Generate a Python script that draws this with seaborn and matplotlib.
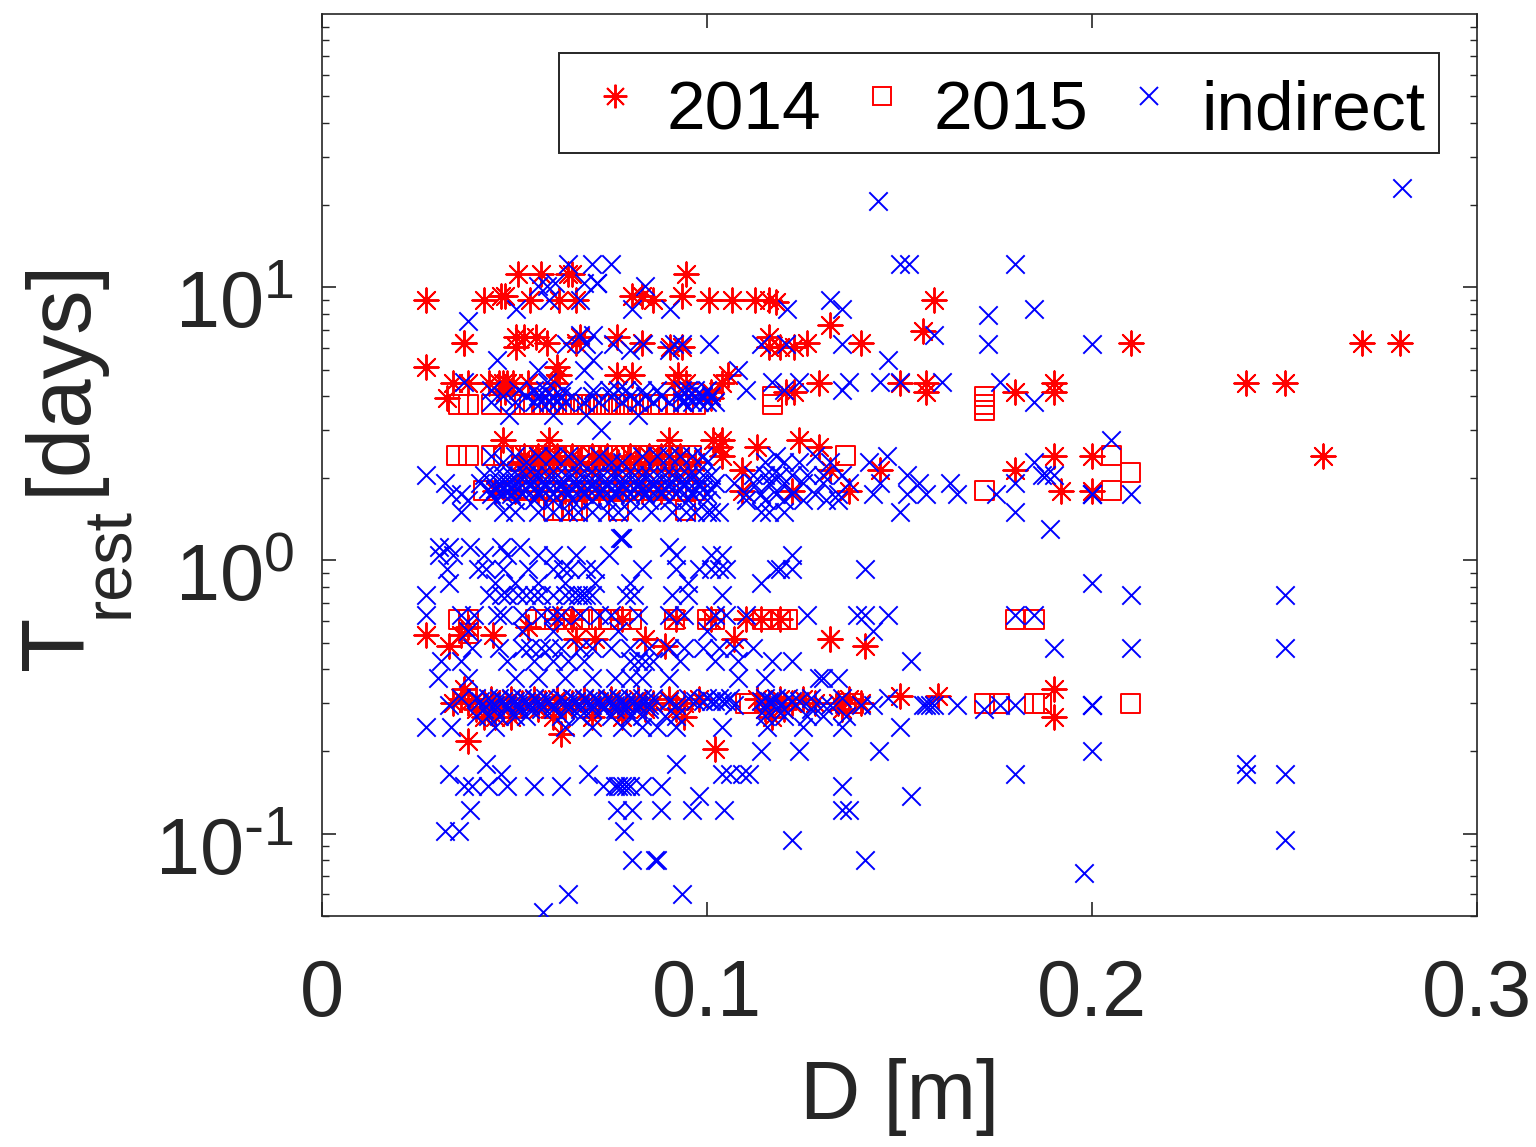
import pandas as pd
import matplotlib
matplotlib.use("Agg")
import matplotlib.pyplot as plt
from matplotlib.lines import Line2D
from matplotlib.transforms import ScaledTranslation
import seaborn as sns

# ----- 2014 (direct), one list per resting time band -----
s_t = [11.2, 9.3, 9.0, 8.8, 7.3, 6.9, 6.6, 6.27, 6.06, 5.12, 4.79, 4.47, 4.15, 3.94,
       2.77, 2.6, 2.42, 2.3, 2.15, 1.8, 0.61, 0.57, 0.536, 0.514, 0.485, 0.34, 0.32,
       0.31, 0.30, 0.285, 0.267, 0.232, 0.218, 0.205]
s_d = [
    [.051, .057, .064, .065, .0945],
    [.0465, .0475, .0805, .083, .0935],
    [.027, .042, .054, .0615, .066, .086, .1005, .1065, .1125, .116, .159],
    [.118],
    [.132],
    [.156],
    [.0505, .0525, .0555, .067, .0765, .116],
    [.037, .037, .0585, .066, .083, .126, .14, .21, .27, .28],
    [.0505, .0905, .0935, .116, .119, .1225],
    [.027, .061],
    [.0615, .0765, .0805, .0925, .1055],
    [.034, .038, .0435, .046, .047, .048, .0495, .0535, .0605, .0915, .0945, .104, .129, .15, .157, .19, .24, .25],
    [.0475, .101, .1205, .1225, .157, .18, .19],
    [.0325, .101],
    [.047, .059, .09, .1015, .104, .124],
    [.1035, .113, .129],
    [.0525, .056, .058, .061, .065, .07, .074, .08, .085, .088, .093, .104, .19, .2, .26],
    [.0515, .055, .059, .063, .067, .072, .077, .082, .087, .092, .097],
    [.052, .053, .054, .057, .06, .066, .07, .076, .08, .084, .09, .095, .109, .132, .145, .18],
    [.045, .05, .056, .063, .068, .072, .078, .083, .088, .109, .122, .137, .192, .2],
    [.061, .065, .078, .092, .101, .11, .114, .119],
    [.038, .0535],
    [.027, .036, .0445],
    [.066, .071, .084, .107, .132, .132],
    [.033, .089, .141],
    [.037, .19],
    [.150, .16],
    [.036, .04, .044, .049, .055, .061, .068, .075, .082, .09, .098, .113, .119, .125, .137],
    [.034, .038, .042, .046, .052, .058, .065, .072, .079, .086, .094, .116, .122, .128, .134, .14],
    [.04, .043, .047, .05, .056, .063, .07, .077, .084, .092, .115, .12, .135],
    [.042, .045, .049, .06, .07, .078, .094, .117, .19],
    [.062],
    [.038],
    [.102],
]

# ----- 2015 (direct) -----
q_t = [3.97, 3.72, 3.54, 2.42, 2.1, 1.8, 1.52, 0.61, 0.54, 0.30]
q_d = [
    [.117, .172],
    [.0355, .038, .044, .049, .0525, .055, .057, .059, .061, .063, .065, .067, .069, .070, .071, .072,
     .073, .074, .075, .077, .079, .081, .083, .085, .087, .09, .092, .094, .097, .117, .172],
    [.172],
    [.035, .038, .044, .047, .049, .052, .055, .058, .061, .064, .067, .07, .073, .076, .079, .082, .085,
     .088, .09, .093, .096, .136, .205],
    [.21],
    [.042, .05, .054, .058, .061, .065, .069, .072, .075, .079, .083, .086, .09, .094, .097, .172, .205],
    [.06, .0625, .065, .0665, .077, .0945],
    [.0355, .038, .0555, .058, .0605, .063, .067, .070, .0725, .0745, .0775, .0805, .0915, .1, .102,
     .1145, .119, .121, .18, .185],
    [.038],
    [.11, .111, .136, .138, .172, .176, .185, .187, .21],
]

# ----- indirect -----
x_t = [23, 20.7, 12.2, 10.4, 10.1, 9.0, 8.3, 7.9, 7.5, 6.7, 6.2, 5.9, 5.4, 5.0, 4.5, 4.2, 4.0, 3.8, 3.4, 3.0,
       2.77, 2.42, 2.3, 2.06, 1.92, 1.82, 1.75, 1.67, 1.51, 1.3, 1.21, 1.12, 1.05, 0.93, 0.83, 0.75, 0.63, 0.55,
       0.48, 0.43, 0.37, 0.315, 0.305, 0.295, 0.285, 0.27, 0.245, 0.2, 0.18, 0.165, 0.15, 0.138, 0.122, 0.102,
       0.095, 0.08, 0.072, 0.06, 0.0515]
x_d = [
    [.2805],
    [.1445],
    [.064, .070, .075, .15, .1525, .18],
    [.0605, .068, .0715, .0715, .0715],
    [.056, .0585, .084],
    [.059, .067, .132],
    [.0505, .0805, .0905, .1207, .135, .185],
    [.173],
    [.0378],
    [.067, .0705, .159],
    [.0635, .0685, .0755, .0835, .0915, .0935, .1005, .1205, .114, .135, .173, .2],
    [.08, .09],
    [.0455, .0705, .147],
    [.056, .068, .108],
    [.037, .0585, .117, .124, .137, .145, .15, .161, .176],
    [.044, .051, .055, .058, .0625, .0705, .0745, .077, .079, .083, .087, .0935, .095, .097, .1, .11, .12, .135],
    [.047, .053, .056, .058, .060, .062, .065, .07, .075, .08, .084, .088, .093, .095, .097, .099, .101],
    [.044, .05, .055, .057, .059, .061, .063, .068, .072, .078, .082, .086, .09, .0935, .094, .096, .098,
     .10, .102, .185],
    [.0485, .06, .0685, .082],
    [.0725],
    [.205],
    [.044, .05, .056, .06, .064, .072, .083, .087, .09, .093, .096, .099, .118, .128, .1467],
    [.047, .053, .067, .075, .078, .1, .115, .12, .124, .132, .142, .185],
    [.027, .042, .045, .047, .049, .051, .053, .055, .057, .059, .061, .063, .065, .067, .069, .071, .073,
     .075, .077, .079, .081, .083, .085, .087, .089, .091, .093, .095, .097, .099, .101, .112, .115, .117,
     .119, .122, .126, .13, .135, .152, .187, .188, .19],
    [.032, .041, .046, .048, .05, .054, .058, .062, .066, .07, .074, .078, .082, .086, .09, .094, .098,
     .102, .107, .112, .116, .12, .125, .13, .137, .145, .155, .163, .18],
    [.043, .045, .047, .049, .051, .053, .055, .057, .059, .061, .063, .065, .067, .069, .071, .073, .075,
     .077, .079, .081, .083, .085, .087, .089, .091, .093, .095, .097, .099, .101],
    [.0335, .036, .044, .047, .049, .052, .056, .06, .064, .068, .072, .076, .08, .084, .088, .092, .096,
     .1, .11, .114, .118, .122, .128, .134, .143, .152, .157, .165, .175, .2, .2, .2, .21],
    [.038, .045, .05, .055, .06, .065, .07, .075, .08, .085, .09, .095, .1, .11, .115, .12, .125, .131, .134],
    [.036, .047, .050, .056, .06, .064, .0665, .07, .074, .077, .08, .0855, .091, .0945, .097, .1, .101,
     .103, .114, .116, .12, .15, .18],
    [.189],
    [.0775, .0778, .078],
    [.0305, .033, .0385, .0465, .0515, .09],
    [.0305, .034, .042, .048, .056, .06, .066, .0745, .092, .101, .104, .122],
    [.0325, .0405, .0425, .047, .0535, .06, .0625, .0645, .0685, .071, .083, .092, .098, .101, .103, .105,
     .118, .119, .122, .141],
    [.033, .045, .05, .056, .063, .071, .08, .095, .114, .2],
    [.027, .0435, .0465, .048, .051, .053, .055, .057, .06, .063, .065, .0665, .0675, .0685, .07, .079,
     .081, .091, .095, .104, .21, .25],
    [.027, .036, .0395, .0455, .047, .052, .057, .06, .062, .067, .072, .075, .082, .09, .094, .102, .105,
     .11, .126, .139, .141, .147, .18, .185],
    [.038, .052, .06, .077, .1, .143],
    [.039, .046, .052, .054, .057, .059, .062, .067, .07, .075, .08, .085, .09, .094, .099, .103, .107,
     .112, .19, .21, .25],
    [.031, .036, .048, .055, .06, .064, .068, .08, .082, .084, .086, .093, .102, .108, .117, .122, .153],
    [.03, .038, .05, .056, .063, .07, .076, .08, .083, .09, .108, .115, .13, .134, .129],
    [.036, .04, .043, .046, .049, .052, .055, .058, .062, .065, .068, .071, .074, .077, .08, .083, .086,
     .095, .1, .103, .106, .115, .118, .121, .127, .135, .147],
    [.041, .044, .047, .05, .053, .056, .059, .063, .066, .069, .072, .075, .078, .081, .084, .09, .097,
     .099, .101, .102, .104, .105, .114, .116, .117, .122, .124],
    [.033, .045, .048, .051, .054, .057, .06, .064, .067, .07, .073, .076, .079, .082, .085, .092, .107,
     .119, .13, .132, .14, .143, .156, .157, .158, .159, .165, .176, .18, .2, .2, .2],
    [.042, .045, .048, .051, .054, .057, .06, .064, .067, .07, .073, .076, .079, .082, .085, .12, .115,
     .118, .127, .172],
    [.04, .043, .046, .05, .053, .062, .067, .075, .08, .083, .089, .092, .115, .12, .126, .13, .136],
    [.027, .0335, .045, .063, .07, .078, .083, .087, .092, .104, .1155, .125, .135, .15],
    [.114, .124, .1447, .2],
    [.0425, .092, .24],
    [.033, .0465, .069, .18, .24, .25, .104, .106, .109, .111],
    [.037, .039, .043, .048, .055, .062, .073, .076, .077, .078, .079, .08, .083, .088, .135],
    [.098, .153],
    [.0385, .0765, .0805, .088, .096, .1045, .135, .137],
    [.032, .0355, .0785],
    [.122, .25],
    [.0805, .0865, .087, .141],
    [.198],
    [.0935, .064],
    [.0575],
]

frames = []
for year, ts, ds in [("2014", s_t, s_d), ("2015", q_t, q_d), ("indirect", x_t, x_d)]:
    for t, d in zip(ts, ds):
        frames.append(pd.DataFrame({"D": d, "T": t, "group": year}))
df = pd.concat(frames, ignore_index=True)

sns.set_theme(style="ticks")
plt.rcParams["font.family"] = ["Liberation Sans", "DejaVu Sans"]
plt.rcParams["mathtext.default"] = "regular"
dark = "#262626"

fig = plt.figure(figsize=(15.36, 11.47), dpi=100)
ax = fig.add_axes([322 / 1536, 1 - 916 / 1147, (1477 - 322) / 1536, (916 - 14) / 1147])

sns.scatterplot(data=df[df.group == "2014"], x="D", y="T", marker=(8, 2, 0), color="#ff0000",
                s=310, linewidth=1.4, ax=ax, legend=False, zorder=3)
sns.scatterplot(data=df[df.group == "2015"], x="D", y="T", marker="s", facecolors="none",
                edgecolor="#ff0000", s=185, linewidth=1.4, ax=ax, legend=False, zorder=4)
sns.scatterplot(data=df[df.group == "indirect"], x="D", y="T", marker="x", color="#0000ff",
                s=175, linewidth=1.4, ax=ax, legend=False, zorder=5)

ax.set_yscale("log")
ax.set_xlim(0, 0.3)
ax.set_ylim(0.05, 100)
ax.set_xticks([0, 0.1, 0.2, 0.3])
ax.set_xticklabels(["0", "0.1", "0.2", "0.3"])
ax.set_yticks([0.1, 1, 10])
ax.set_yticklabels(["$10^{\\text{-}1}$", "$10^{0}$", "$10^{1}$"])
ax.tick_params(axis="both", which="major", direction="in", length=10, width=1.2, color=dark,
               top=True, right=True, labelsize=57, labelcolor=dark)
ax.tick_params(axis="x", which="major", pad=30)
ax.tick_params(axis="y", which="major", pad=20)
ax.tick_params(axis="y", which="minor", direction="in", length=5, width=1.0, color=dark, right=True, left=True)
for spine in ax.spines.values():
    spine.set_color(dark)
    spine.set_linewidth(1.2)

# y labels sit a bit below their ticks
shift = ScaledTranslation(0, -12 / 100, fig.dpi_scale_trans)
for lab in ax.get_yticklabels():
    lab.set_transform(lab.get_transform() + shift)

ax.set_xlabel("")
ax.set_ylabel("")
fig.text(900 / 1536, 1 - 1097 / 1147, "D [m]", fontsize=60, color=dark, ha="center", va="center")
# label pieces placed one by one, the subscript is big and low
fig.text(60 / 1536, 1 - 643 / 1147, "T", fontsize=64, color=dark, rotation=90, ha="center", va="center")
fig.text(111 / 1536, 1 - 563 / 1147, "rest", fontsize=48, color=dark, rotation=90, ha="center", va="center")
fig.text(62 / 1536, 1 - 376 / 1147, "[days]", fontsize=64, color=dark, rotation=90, ha="center", va="center")

handles = [
    Line2D([], [], linestyle="none", marker=(8, 2, 0), color="#ff0000", markersize=17, markeredgewidth=1.4),
    Line2D([], [], linestyle="none", marker="s", markerfacecolor="none", markeredgecolor="#ff0000",
           markersize=13, markeredgewidth=1.4),
    Line2D([], [], linestyle="none", marker="x", color="#0000ff", markersize=13, markeredgewidth=1.4),
]
leg = ax.legend(handles, ["2014", "2015", "indirect"], ncol=3, fontsize=50, labelcolor="black", frameon=True,
                fancybox=False, framealpha=1, edgecolor=dark, loc="upper right",
                bbox_to_anchor=(1117 / 1155, 1 - 39 / 902), borderaxespad=0, borderpad=0.2,
                handletextpad=0.15, columnspacing=0.27, handlelength=1.2, handleheight=1.15)
leg.get_frame().set_linewidth(1.4)
leg.set_zorder(10)
for txt in leg.get_texts():
    txt.set_position((0, -5))

fig.savefig("out.png", dpi=100)
